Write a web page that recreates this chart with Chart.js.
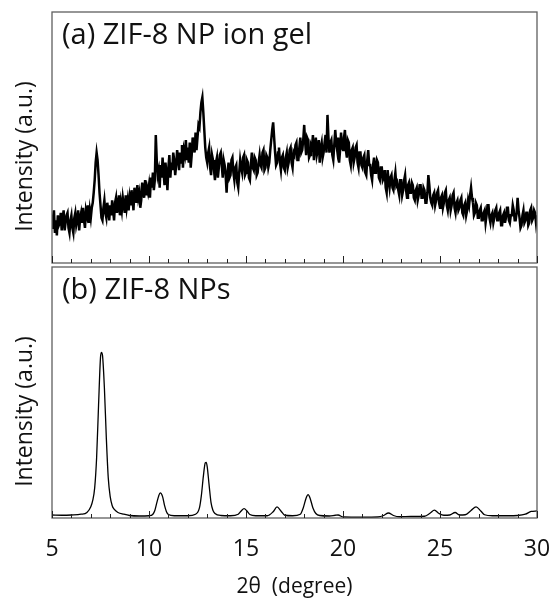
<!DOCTYPE html>
<html>
<head>
<meta charset="utf-8">
<script src="https://cdn.jsdelivr.net/npm/chart.js@4.4.1/dist/chart.umd.min.js"></script>
<style>
  html, body { margin: 0; padding: 0; background: #fff; }
  #wrap { position: relative; width: 554px; height: 599px; }
  .pane { position: absolute; left: 0; }
  #topPane { top: 0; width: 554px; height: 265px; }
  #botPane { top: 265px; width: 554px; height: 334px; }
</style>
</head>
<body>
<div id="wrap">
  <div class="pane" id="topPane"><canvas id="gelChart"></canvas></div>
  <div class="pane" id="botPane"><canvas id="npChart"></canvas></div>
</div>
<script>
/* =============================
   DATA
============================= */
const panelLabels = ["(a) ZIF-8 NP ion gel", "(b) ZIF-8 NPs"];
const xTitle = "2θ  (degree)";
const yTitle = "Intensity (a.u.)";

const xTickLabels = [5, 10, 15, 20, 25, 30];
const xMinorTicks = [6, 7, 8, 9, 11, 12, 13, 14, 16, 17, 18, 19, 21, 22, 23, 24, 26, 27, 28, 29];

// (a) ion gel, 2θ from 5 to 30, step 0.05 (one row per degree)
const gelStart = 5;
const gelStep = 0.05;
const gelIntensity = [
  14, 18, 21, 12, 17, 11, 19, 15, 16, 20, 13, 18, 21, 13, 16, 19, 20, 14, 12, 17,
  19, 14, 12, 18, 20, 15, 17, 21, 13, 18, 20, 16, 22, 17, 14, 21, 19, 23, 16, 21,
  18, 22, 24, 28, 33, 40, 44, 41, 35, 28, 23, 18, 17, 22, 25, 20, 18, 24, 21, 17,
  23, 19, 25, 21, 17, 24, 26, 20, 22, 27, 19, 24, 21, 26, 23, 20, 27, 22, 25, 21,
  26, 23, 29, 25, 21, 30, 27, 24, 31, 26, 28, 22, 25, 32, 29, 26, 33, 27, 30, 28,
  31, 26, 34, 30, 36, 29, 33, 51, 41, 35, 37, 30, 39, 34, 42, 36, 31, 40, 35, 29,
  38, 43, 34, 40, 37, 44, 41, 35, 39, 45, 42, 37, 44, 40, 47, 38, 45, 43, 49, 41,
  46, 40, 48, 38, 43, 50, 47, 44, 52, 45, 50, 55, 54, 60, 64, 66, 60, 53, 46, 42,
  40, 44, 46, 38, 35, 43, 41, 37, 33, 40, 42, 34, 38, 43, 44, 39, 34, 41, 39, 35,
  28, 36, 40, 34, 35, 41, 42, 36, 33, 38, 39, 32, 30, 36, 41, 38, 36, 42, 43, 35,
  36, 41, 40, 34, 33, 39, 44, 38, 37, 42, 41, 35, 36, 40, 43, 39, 38, 44, 45, 37,
  38, 43, 42, 38, 40, 45, 49, 53, 56, 50, 44, 39, 40, 44, 46, 40, 37, 42, 43, 38,
  37, 42, 44, 38, 40, 45, 46, 40, 38, 44, 43, 47, 48, 41, 41, 46, 50, 44, 45, 49,
  55, 48, 43, 50, 49, 42, 43, 47, 46, 51, 41, 46, 50, 43, 45, 49, 40, 46, 48, 42,
  44, 48, 51, 44, 59, 50, 44, 48, 49, 43, 41, 47, 53, 48, 45, 50, 40, 45, 52, 46,
  45, 50, 53, 45, 42, 49, 48, 41, 39, 45, 46, 40, 42, 46, 47, 40, 38, 44, 44, 39,
  38, 42, 43, 36, 35, 41, 45, 39, 39, 35, 33, 39, 42, 36, 37, 41, 40, 34, 33, 38,
  38, 33, 34, 37, 30, 28, 37, 33, 30, 34, 35, 30, 29, 33, 36, 31, 32, 29, 27, 33,
  33, 27, 29, 33, 35, 29, 26, 31, 32, 28, 28, 32, 31, 26, 25, 29, 30, 25, 27, 31,
  31, 26, 26, 30, 29, 24, 24, 28, 35, 31, 26, 24, 23, 27, 28, 23, 25, 28, 29, 24,
  22, 26, 27, 22, 24, 28, 29, 23, 21, 25, 26, 21, 23, 27, 28, 22, 20, 24, 25, 21,
  22, 25, 26, 20, 19, 23, 24, 19, 21, 25, 23, 27, 30, 26, 24, 19, 20, 24, 23, 18,
  18, 21, 22, 17, 17, 20, 21, 16, 19, 23, 23, 18, 16, 19, 20, 16, 18, 21, 22, 17,
  17, 20, 21, 15, 15, 19, 20, 16, 18, 22, 22, 17, 16, 19, 19, 23, 21, 17, 17, 20,
  26, 21, 18, 14, 15, 19, 21, 16, 17, 20, 20, 15, 16, 21, 22, 17, 18, 21, 20, 16,
  19
];

// (b) ZIF-8 NPs
const npAngle = [
  5.0, 5.5, 6.0, 6.5, 6.8, 7.0, 7.1, 7.2, 7.3, 7.4, 7.5, 7.55, 7.6, 7.7, 7.8, 7.9,
  8.0, 8.1, 8.2, 8.4, 8.7, 9.0, 9.5, 10.0, 10.2, 10.3, 10.4, 10.5, 10.58, 10.7, 10.8, 10.9,
  11.0, 11.3, 12.0, 12.4, 12.6, 12.7, 12.8, 12.9, 12.95, 13.0, 13.1, 13.2, 13.3, 13.4, 13.7,
  14.2, 14.6, 14.75, 14.9, 15.05, 15.2, 15.5, 16.1, 16.4, 16.6, 16.8, 17.0, 17.4, 17.8, 17.95,
  18.1, 18.2, 18.3, 18.45, 18.6, 18.8, 19.3, 19.6, 19.75, 20.0, 21.0, 21.8, 22.1, 22.34, 22.6,
  22.9, 23.5, 24.2, 24.5, 24.71, 24.95, 25.2, 25.5, 25.78, 26.0, 26.3, 26.6, 26.86, 27.1, 27.3,
  27.7, 28.5, 29.0, 29.4, 29.7, 30.0
];
const npIntensity = [
  1.2, 1.1, 1.2, 1.5, 2.2, 4.5, 7, 12, 24, 45, 64, 66, 65, 52, 32, 16,
  8.5, 5, 3.5, 2.2, 1.5, 1.0, 0.8, 0.9, 1.5, 3, 6, 8.8, 10, 8.5, 5, 2.5,
  1.4, 0.9, 0.9, 1.5, 4, 9, 16.5, 22, 22.2, 20.5, 13, 6, 3, 1.8, 1.0,
  0.9, 1.5, 2.8, 3.7, 2.8, 1.4, 0.9, 0.9, 2.5, 4.4, 2.8, 1.1, 0.9, 1.5, 4,
  8, 9.3, 8, 4, 1.8, 1.0, 0.8, 1.1, 1.2, 0.4, 0.3, 0.4, 1.0, 2.0, 1.0,
  0.5, 0.6, 0.7, 2.0, 3.1, 1.8, 1.1, 1.2, 2.2, 1.2, 1.3, 3.0, 4.4, 2.8, 1.3,
  0.9, 0.9, 1.0, 1.5, 2.6, 2.8
];

/* =============================
   HELPERS
============================= */
const FONT = "'Open Sans', 'Noto Sans', sans-serif";
const FRAME = "#5f5f5f";
const INK = "#111";

const gelPoints = gelIntensity.map((v, i) => ({ x: gelStart + i * gelStep, y: v }));
const npPoints = npAngle.map((a, i) => ({ x: a, y: npIntensity[i] }));

// box frame, inward ticks, panel caption and y title
function framePlugin(label) {
  return {
    id: "frame",
    afterDatasetsDraw(chart) {
      const { ctx, chartArea: a, scales } = chart;
      const xs = scales.x;
      ctx.save();
      ctx.strokeStyle = FRAME;
      ctx.lineWidth = 1.3;
      ctx.strokeRect(a.left, a.top, a.right - a.left, a.bottom - a.top);

      ctx.strokeStyle = "#222";
      ctx.lineWidth = 1;
      ctx.beginPath();
      xMinorTicks.forEach(v => {
        const px = Math.round(xs.getPixelForValue(v)) + 0.5;
        ctx.moveTo(px, a.bottom);
        ctx.lineTo(px, a.bottom - 4);
      });
      xTickLabels.forEach(v => {
        const px = Math.round(xs.getPixelForValue(v)) + 0.5;
        ctx.moveTo(px, a.bottom);
        ctx.lineTo(px, a.bottom - 7);
      });
      ctx.stroke();

      ctx.fillStyle = INK;
      ctx.font = "29px " + FONT;
      ctx.textBaseline = "alphabetic";
      ctx.textAlign = "left";
      ctx.fillText(label, a.left + 10, a.top + 32);

      // y title sits a little below the panel centre in the original
      ctx.translate(25, (a.top + a.bottom) / 2 + 19);
      ctx.rotate(-Math.PI / 2);
      ctx.font = "23px " + FONT;
      ctx.textAlign = "center";
      ctx.textBaseline = "middle";
      ctx.fillText(yTitle, 0, 0);
      ctx.restore();
    }
  };
}

function yAxis() {
  return {
    min: 0,
    max: 100,
    ticks: { display: false },
    grid: { display: false, drawTicks: false },
    border: { display: false },
    afterFit: s => { s.width = 52; }
  };
}

/* =============================
   (a) ION GEL
============================= */
new Chart(document.getElementById("gelChart"), {
  type: "line",
  data: {
    datasets: [{
      data: gelPoints,
      borderColor: "#000",
      borderWidth: 2.5,
      pointRadius: 0,
      tension: 0
    }]
  },
  options: {
    responsive: true,
    maintainAspectRatio: false,
    animation: false,
    events: [],
    layout: { padding: { top: 12, right: 17, bottom: 2, left: 0 } },
    plugins: { legend: { display: false }, tooltip: { enabled: false } },
    scales: {
      x: { type: "linear", min: 5, max: 30, display: false },
      y: yAxis()
    }
  },
  plugins: [framePlugin(panelLabels[0])]
});

/* =============================
   (b) ZIF-8 NPs
============================= */
new Chart(document.getElementById("npChart"), {
  type: "line",
  data: {
    datasets: [{
      data: npPoints,
      borderColor: "#000",
      borderWidth: 1.3,
      pointRadius: 0,
      cubicInterpolationMode: "monotone"
    }]
  },
  options: {
    responsive: true,
    maintainAspectRatio: false,
    animation: false,
    events: [],
    layout: { padding: { top: 2, right: 17, bottom: 0, left: 0 } },
    plugins: { legend: { display: false }, tooltip: { enabled: false } },
    scales: {
      x: {
        type: "linear",
        min: 5,
        max: 30,
        afterBuildTicks: s => { s.ticks = xTickLabels.map(v => ({ value: v })); },
        ticks: {
          color: INK,
          font: { family: FONT, size: 23 },
          padding: 18,
          maxRotation: 0,
          autoSkip: false
        },
        grid: { display: false, drawTicks: false },
        border: { display: false },
        title: {
          display: true,
          text: xTitle,
          color: INK,
          font: { family: FONT, size: 21, lineHeight: 1.1 },
          padding: { top: 0, bottom: 0 }
        },
        afterFit: s => {
          s.height = 81;
          s.paddingLeft = 0;
          s.paddingRight = 0;
        }
      },
      y: yAxis()
    }
  },
  plugins: [framePlugin(panelLabels[1])]
});
</script>
</body>
</html>
